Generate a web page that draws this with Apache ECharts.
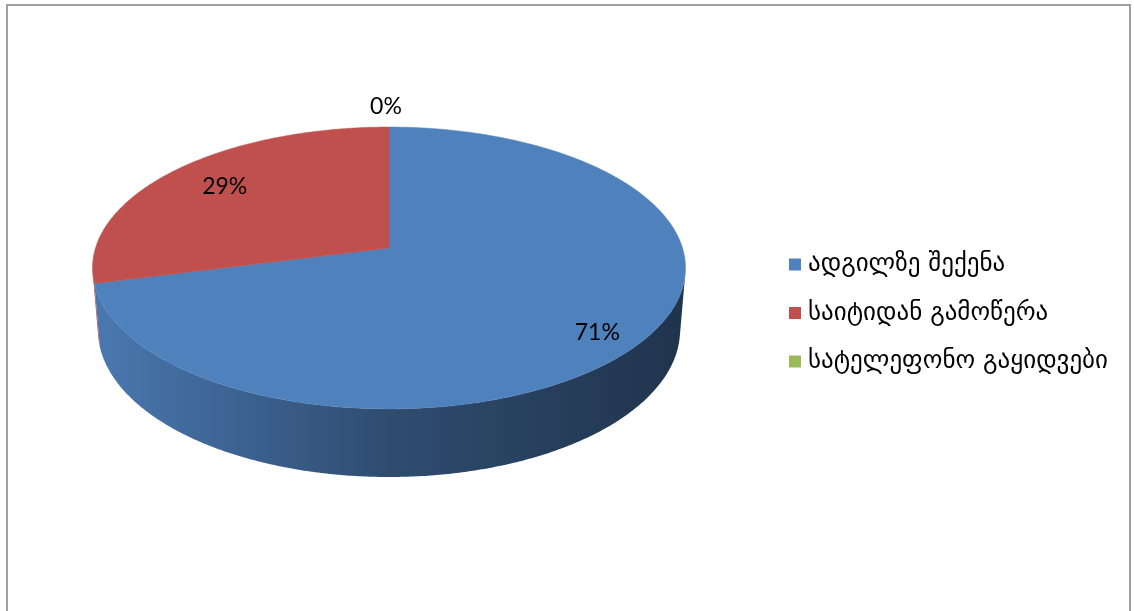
<!DOCTYPE html>
<html>
<head>
<meta charset="utf-8">
<script src="https://cdn.jsdelivr.net/npm/echarts@6/dist/echarts.min.js"></script>
<style>
  html, body { margin: 0; padding: 0; background: #fff; }
  #chart { width: 1134px; height: 611px; }
</style>
</head>
<body>
<div id="chart"></div>
<script>
// Sales channels and their shares (percent)
const categories = ['ადგილზე შექენა', 'საიტიდან გამოწერა', 'სატელეფონო გაყიდვები'];
const shares = [71, 29, 0];
const colors = ['#4f81bd', '#c0504d', '#9bbb59'];

// Geometry of the tilted disc seen in perspective
const geo = {
  cx: 389, cy: 248,       // projected centre of the top face
  R: 293.5,               // disc radius
  H: 71,                  // disc thickness
  tilt: 28.07 * Math.PI / 180,
  D: 1828                 // viewing distance
};
const cosT = Math.cos(geo.tilt), sinT = Math.sin(geo.tilt);

// theta: clockwise from the far side, r: radius, h: height (0 = top face)
function project(theta, r, h) {
  const X = r * Math.sin(theta);
  const Z = -r * Math.cos(theta);
  const u = h * cosT - Z * sinT;
  const w = h * sinT + Z * cosT;
  const k = geo.D / (geo.D - w);
  return [geo.cx + k * X, geo.cy - k * u];
}

const total = shares.reduce((a, b) => a + b, 0);
const startAngles = [];
{
  let acc = 0;
  for (const v of shares) { startAngles.push(acc / total * Math.PI * 2); acc += v; }
}

// Side wall is visible where the outward normal faces the viewer
const wallLimit = Math.acos(-geo.R / (geo.D * cosT));
const wallFrom = wallLimit, wallTo = Math.PI * 2 - wallLimit;

function arc(a0, a1, r, h) {
  const n = Math.max(2, Math.ceil(Math.abs(a1 - a0) / (Math.PI / 360)));
  const pts = [];
  for (let i = 0; i <= n; i++) pts.push(project(a0 + (a1 - a0) * i / n, r, h));
  return pts;
}

function shade(hex, f) {
  const n = parseInt(hex.slice(1), 16);
  const r = Math.round(((n >> 16) & 255) * f);
  const g = Math.round(((n >> 8) & 255) * f);
  const b = Math.round((n & 255) * f);
  return 'rgb(' + r + ',' + g + ',' + b + ')';
}

function wallFill(hex) {
  const left = project(Math.PI * 1.5, geo.R, 0)[0];
  const right = project(Math.PI * 0.5, geo.R, 0)[0];
  return new echarts.graphic.LinearGradient(left, 0, right, 0, [
    { offset: 0, color: shade(hex, 0.93) },
    { offset: 0.1, color: shade(hex, 0.86) },
    { offset: 0.5, color: shade(hex, 0.59) },
    { offset: 1, color: shade(hex, 0.40) }
  ], true);
}

function renderSlice(idx) {
  return function (params, api) {
    const value = api.value(0);
    const a0 = startAngles[idx];
    const a1 = a0 + value / total * Math.PI * 2;
    const color = colors[idx];
    const children = [];

    // front wall
    const lo = Math.max(a0, wallFrom), hi = Math.min(a1, wallTo);
    const hasWall = hi > lo;
    if (hasWall) {
      const top = arc(lo, hi, geo.R, 0);
      const bottom = arc(hi, lo, geo.R, -geo.H);
      children.push({
        type: 'polygon',
        shape: { points: top.concat(bottom) },
        style: { fill: wallFill(color), stroke: null },
        z2: 1
      });
    }

    // top face
    if (a1 > a0) {
      const pts = [project(0, 0, 0)].concat(arc(a0, a1, geo.R, 0));
      children.push({
        type: 'polygon',
        shape: { points: pts },
        style: { fill: color, stroke: color, lineWidth: 0.5 },
        z2: 2
      });
    }

    // percentage label: inside for real slices (pushed outward when the
    // slice shows a front wall), outside for empty ones
    const share = value / total;
    const mid = (a0 + a1) / 2 + (share < 0.02 ? 0 : Math.PI / 90);
    let rr;
    if (share < 0.02) rr = geo.R * 1.22;
    else if (hi - lo > Math.PI / 4) rr = geo.R * 0.86;
    else rr = geo.R * 0.77;
    const p = project(mid, rr, 0);
    children.push({
      type: 'text',
      x: p[0] - (share < 0.02 ? 3 : 2), y: p[1] + 2,
      style: {
        text: Math.round(share * 100) + '%',
        fill: '#000',
        font: '23px Lato, "Liberation Sans", sans-serif',
        align: 'center',
        verticalAlign: 'middle'
      },
      z2: 10
    });

    return { type: 'group', children: children };
  };
}

const series = categories.map((name, i) => ({
  type: 'custom',
  name: name,
  coordinateSystem: 'none',
  silent: true,
  itemStyle: { color: colors[i] },
  data: [[shares[i]]],
  renderItem: renderSlice(i)
}));

const chart = echarts.init(document.getElementById('chart'), null, { renderer: 'canvas' });
chart.setOption({
  animation: false,
  backgroundColor: '#fff',
  graphic: [{
    type: 'polyline',
    shape: { points: [[7, 640], [7, 5], [1130, 5], [1130, 640]] },
    style: { stroke: '#a0a0a0', lineWidth: 2, fill: null },
    silent: true
  }],
  legend: {
    orient: 'vertical',
    left: 784,
    top: 247,
    icon: 'rect',
    itemWidth: 12,
    itemHeight: 12,
    itemGap: 23.5,
    selectedMode: false,
    textStyle: {
      fontFamily: '"DejaVu Sans", sans-serif',
      fontSize: 25,
      lineHeight: 24,
      color: '#000',
      padding: [0, 0, 0, 2]
    },
    data: categories
  },
  series: series
});
</script>
</body>
</html>
